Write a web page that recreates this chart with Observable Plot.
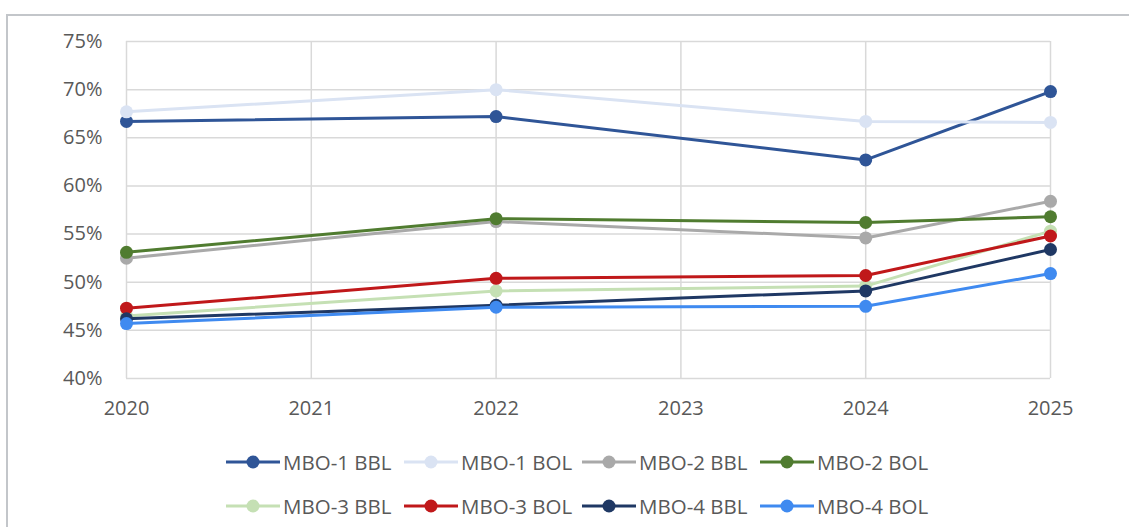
<!DOCTYPE html>
<html>
<head>
<meta charset="utf-8">
<script src="https://cdn.jsdelivr.net/npm/d3@7"></script>
<script src="https://cdn.jsdelivr.net/npm/@observablehq/plot@0.6"></script>
<style>
  html, body { margin: 0; padding: 0; background: #fff; }
  body { width: 1129px; height: 527px; position: relative; overflow: hidden; font-family: "Open Sans", "Liberation Sans", sans-serif; }
  #frame { position: absolute; left: 6px; top: 14px; right: -10px; bottom: -10px; border-top: 2px solid #c3c6ca; border-left: 2px solid #c3c6ca; }
  #chart { position: absolute; left: 0; top: 0; }
  #legend { position: absolute; left: 226px; top: 440px; width: 740px; }
  .row { display: flex; height: 44px; align-items: center; }
  .item { display: flex; align-items: center; width: 178px; font-size: 20.5px; color: #595959; white-space: nowrap; }
  .item svg { margin-right: 3px; }
</style>
</head>
<body>
<div id="frame"></div>
<div id="chart"></div>
<div id="legend"></div>
<script>
// ---- data ----
const years = [2020, 2022, 2024, 2025];
const xTicks = [2020, 2021, 2022, 2023, 2024, 2025];
const yTicks = [40, 45, 50, 55, 60, 65, 70, 75];
const seriesNames = ["MBO-1 BBL", "MBO-1 BOL", "MBO-2 BBL", "MBO-2 BOL", "MBO-3 BBL", "MBO-3 BOL", "MBO-4 BBL", "MBO-4 BOL"];
const seriesColors = ["#2f5597", "#dae3f3", "#a9a9a9", "#507c30", "#c5e0b4", "#c0181a", "#1f3864", "#3f8af0"];
const mbo1BBL = [66.7, 67.2, 62.7, 69.8];
const mbo1BOL = [67.7, 70.0, 66.7, 66.6];
const mbo2BBL = [52.5, 56.3, 54.6, 58.4];
const mbo2BOL = [53.1, 56.6, 56.2, 56.8];
const mbo3BBL = [46.5, 49.1, 49.6, 55.3];
const mbo3BOL = [47.3, 50.4, 50.7, 54.8];
const mbo4BBL = [46.2, 47.6, 49.1, 53.4];
const mbo4BOL = [45.7, 47.4, 47.5, 50.9];
const seriesValues = [mbo1BBL, mbo1BOL, mbo2BBL, mbo2BOL, mbo3BBL, mbo3BOL, mbo4BBL, mbo4BOL];

const data = seriesNames.flatMap((name, i) =>
  years.map((year, j) => ({ series: name, year, value: seriesValues[i][j] }))
);

const seriesMarks = seriesNames.flatMap((name) => {
  const rows = data.filter(d => d.series === name);
  return [
    Plot.line(rows, { x: "year", y: "value", stroke: "series", strokeWidth: 3 }),
    Plot.dot(rows, { x: "year", y: "value", fill: "series", r: 6.5 })
  ];
});

const chart = Plot.plot({
  width: 1129,
  height: 430,
  marginLeft: 126,
  marginRight: 79,
  marginTop: 41,
  marginBottom: 52,
  style: { fontFamily: "'Open Sans', 'Liberation Sans', sans-serif", background: "transparent" },
  x: { domain: [2020, 2025], label: null },
  y: { domain: [40, 75], label: null },
  color: { domain: seriesNames, range: seriesColors },
  marks: [
    Plot.gridX(xTicks, { stroke: "#d9d9d9", strokeOpacity: 1, strokeWidth: 1.5 }),
    Plot.gridY(yTicks, { stroke: "#d9d9d9", strokeOpacity: 1, strokeWidth: 1.5 }),
    Plot.axisX(xTicks, { tickSize: 0, tickPadding: 22, tickFormat: d => String(d), fontSize: 20, fill: "#595959", label: null }),
    Plot.axisY(yTicks, { tickSize: 0, tickPadding: 24, tickFormat: d => d + "%", fontSize: 20, fill: "#595959", label: null }),
    ...seriesMarks
  ]
});
document.getElementById("chart").appendChild(chart);

// ---- legend ----
const legend = document.getElementById("legend");
for (let r = 0; r < 2; r++) {
  const row = document.createElement("div");
  row.className = "row";
  for (let c = 0; c < 4; c++) {
    const i = r * 4 + c;
    const item = document.createElement("div");
    item.className = "item";
    item.innerHTML = `<svg width="54" height="16"><line x1="0" y1="8" x2="54" y2="8" stroke="${seriesColors[i]}" stroke-width="3"/><circle cx="27" cy="8" r="6.5" fill="${seriesColors[i]}"/></svg><span>${seriesNames[i]}</span>`;
    row.appendChild(item);
  }
  legend.appendChild(row);
}
</script>
</body>
</html>
